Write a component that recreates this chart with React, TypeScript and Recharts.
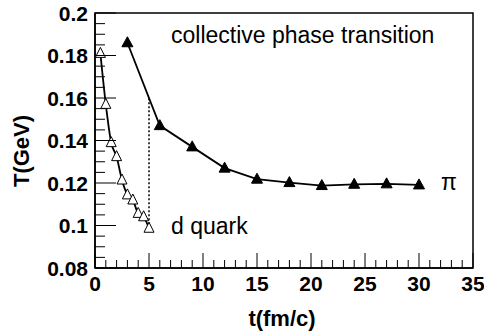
import { ComposedChart, Line, XAxis, YAxis, ReferenceArea } from "recharts"

// pion (collective phase transition) curve, filled triangles
const piTime = [3, 6, 9, 12, 15, 18, 21, 24, 27, 30]
const piTemp = [0.186, 0.147, 0.137, 0.127, 0.1218, 0.1202, 0.1188, 0.1194, 0.1196, 0.1191]

// d quark curve, open triangles
const quarkTime = [0.5, 1, 1.5, 2, 2.5, 3, 3.5, 4, 4.5, 5]
const quarkTemp = [0.181, 0.157, 0.139, 0.1324, 0.1214, 0.1144, 0.112, 0.1057, 0.1041, 0.0987]

// dotted vertical marker at t = 5
const dropTime = [5, 5]
const dropTemp = [0.0987, 0.16]

const xMajor = [0, 5, 10, 15, 20, 25, 30, 35]
const yMajor = [0.08, 0.1, 0.12, 0.14, 0.16, 0.18, 0.2]

const xTicks = Array.from({ length: 36 }, (_, i) => i)
const yTicks = Array.from({ length: 25 }, (_, i) => Math.round((0.08 + i * 0.005) * 1000) / 1000)

const toPoints = (xs: number[], ys: number[]) => xs.map((t, i) => ({ t, T: ys[i] }))
const piData = toPoints(piTime, piTemp)
const quarkData = toPoints(quarkTime, quarkTemp)
const dropData = toPoints(dropTime, dropTemp)

const FONT = "'Liberation Sans', Arial, Helvetica, sans-serif"

const isMajor = (v: number, majors: number[]) => majors.some((m) => Math.abs(m - v) < 1e-6)

function XTick({ x, y, payload }: any) {
  const major = isMajor(payload.value, xMajor)
  return (
    <g>
      <line x1={x} x2={x} y1={y} y2={y - (major ? 15 : 8)} stroke="#000" strokeWidth={1} />
      {major && (
        <text x={x} y={y + 23} textAnchor="middle" fontSize={21} fontWeight="bold" fontFamily={FONT} fill="#000">
          {payload.value}
        </text>
      )}
    </g>
  )
}

function YTick({ x, y, payload }: any) {
  const major = isMajor(payload.value, yMajor)
  return (
    <g>
      <line x1={x} x2={x + (major ? 21 : 10)} y1={y} y2={y} stroke="#000" strokeWidth={1} />
      {major && (
        <text x={x - 7} y={y + 7.5} textAnchor="end" fontSize={21} fontWeight="bold" fontFamily={FONT} fill="#000">
          {String(Number(payload.value.toFixed(3)))}
        </text>
      )}
    </g>
  )
}

function FilledTri({ cx, cy }: any) {
  if (cx == null || cy == null) return null
  return <polygon points={`${cx},${cy - 6} ${cx - 5.5},${cy + 4} ${cx + 5.5},${cy + 4}`} fill="#000" stroke="#000" strokeWidth={1} />
}

function OpenTri({ cx, cy }: any) {
  if (cx == null || cy == null) return null
  return <polygon points={`${cx},${cy - 6} ${cx - 5},${cy + 4} ${cx + 5},${cy + 4}`} fill="#fff" stroke="#000" strokeWidth={1} />
}

export default function App() {
  return (
    <div style={{ position: "absolute", left: 0, top: 0, background: "#fff" }}>
      <ComposedChart width={484} height={336} margin={{ top: 13, right: 11, bottom: 0, left: 0 }}>
        <XAxis
          type="number"
          dataKey="t"
          domain={[0, 35]}
          ticks={xTicks}
          interval={0}
          allowDataOverflow
          height={68}
          tickSize={0}
          tickMargin={0}
          tickLine={false}
          axisLine={{ stroke: "#000", strokeWidth: 1.5 }}
          tick={<XTick />}
        />
        <YAxis
          type="number"
          dataKey="T"
          domain={[0.08, 0.2]}
          ticks={yTicks}
          interval={0}
          allowDataOverflow
          width={95}
          tickSize={0}
          tickMargin={0}
          tickLine={false}
          axisLine={{ stroke: "#000", strokeWidth: 1.5 }}
          tick={<YTick />}
        />
        <ReferenceArea x1={0} x2={35} y1={0.08} y2={0.2} fill="none" stroke="#000" strokeWidth={1.5} ifOverflow="visible" />
        <Line data={dropData} dataKey="T" stroke="#000" strokeWidth={1.5} strokeDasharray="2 2" dot={false} isAnimationActive={false} />
        <Line data={quarkData} dataKey="T" type="monotone" stroke="#000" strokeWidth={1.8} dot={<OpenTri />} isAnimationActive={false} />
        <Line data={piData} dataKey="T" stroke="#000" strokeWidth={1.8} dot={<FilledTri />} isAnimationActive={false} />
        <text x={171} y={43} fontSize={23} fontFamily={FONT} fill="#000">collective phase transition</text>
        <text x={171} y={234} fontSize={23} fontFamily={FONT} fill="#000">d quark</text>
        <text x={441} y={190} fontSize={23} fontFamily={FONT} fill="#000">π</text>
        <text x={282} y={326} textAnchor="middle" fontSize={22} fontWeight="bold" fontFamily={FONT} fill="#000">t(fm/c)</text>
        <text x={29} y={151} textAnchor="middle" fontSize={22} fontWeight="bold" fontFamily={FONT} fill="#000" transform="rotate(-90, 29, 151)">T(GeV)</text>
      </ComposedChart>
    </div>
  )
}
